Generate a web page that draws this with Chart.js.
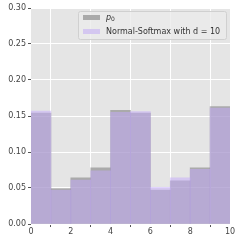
<!DOCTYPE html>
<html>
<head>
<meta charset="utf-8">
<script src="https://cdn.jsdelivr.net/npm/chart.js@4"></script>
<style>
  html, body { margin: 0; padding: 0; background: #fff; }
  #wrap { width: 241px; height: 241px; }
</style>
</head>
<body>
<div id="wrap"><canvas id="histChart" width="241" height="241"></canvas></div>
<script>
// bins are 1 unit wide, from 0 to 10
const binCenters = [0.5, 1.5, 2.5, 3.5, 4.5, 5.5, 6.5, 7.5, 8.5, 9.5];
const p0Values = [0.154, 0.049, 0.064, 0.078, 0.158, 0.154, 0.047, 0.060, 0.078, 0.163];
const softmaxValues = [0.157, 0.047, 0.061, 0.074, 0.155, 0.156, 0.051, 0.064, 0.076, 0.161];
const seriesLabels = ['p0', 'Normal-Softmax with d = 10'];
const yTicks = [0, 0.05, 0.10, 0.15, 0.20, 0.25, 0.30];
const xTicks = [0, 2, 4, 6, 8, 10];

const grayFill = 'rgba(112,112,112,0.5)';
const purpleFill = 'rgba(196,170,252,0.5)';

function toPoints(vals) {
    return vals.map((v, i) => ({ x: binCenters[i], y: v }));
}

const plotBackground = {
    id: 'plotBackground',
    beforeDraw(chart) {
        const a = chart.chartArea;
        const c = chart.ctx;
        c.save();
        c.fillStyle = '#e5e5e5';
        c.fillRect(a.left, a.top, a.right - a.left, a.bottom - a.top);
        c.restore();
    }
};

// matplotlib-like legend box in the upper right corner
const boxLegend = {
    id: 'boxLegend',
    afterDraw(chart) {
        const c = chart.ctx;
        const x0 = 78.5, y0 = 11.5, w = 148, h = 28;
        c.save();
        c.beginPath();
        c.roundRect(x0, y0, w, h, 2);
        c.fillStyle = 'rgba(235,235,235,0.8)';
        c.fill();
        c.strokeStyle = '#d0d0d0';
        c.lineWidth = 1;
        c.stroke();

        c.fillStyle = '#e5e5e5';
        c.fillRect(83, 15, 17, 5);
        c.fillStyle = grayFill;
        c.fillRect(83, 15, 17, 5);
        c.fillStyle = '#e5e5e5';
        c.fillRect(83, 29, 17, 5);
        c.fillStyle = purpleFill;
        c.fillRect(83, 29, 17, 5);

        c.fillStyle = '#333';
        c.textBaseline = 'middle';
        c.font = 'italic 8px "DejaVu Sans"';
        c.fillText('p', 106, 17.5);
        c.font = '6px "DejaVu Sans"';
        c.fillText('0', 111, 19.5);
        c.font = '8px "DejaVu Sans"';
        c.fillText(seriesLabels[1], 106, 31.5);
        c.restore();
    }
};

const tickFont = { family: 'DejaVu Sans', size: 8 };

new Chart(document.getElementById('histChart'), {
    type: 'bar',
    data: {
        datasets: [
            {
                label: seriesLabels[1],
                data: toPoints(softmaxValues),
                backgroundColor: purpleFill,
                borderWidth: 0
            },
            {
                label: seriesLabels[0],
                data: toPoints(p0Values),
                backgroundColor: grayFill,
                borderWidth: 0
            }
        ]
    },
    options: {
        responsive: false,
        animation: false,
        layout: { padding: { top: 8, right: 11, left: 0, bottom: 0 } },
        datasets: {
            bar: { barPercentage: 1, categoryPercentage: 1, grouped: false }
        },
        plugins: {
            legend: { display: false },
            tooltip: { enabled: false }
        },
        scales: {
            x: {
                type: 'linear',
                min: 0,
                max: 10,
                offset: false,
                afterBuildTicks: s => { s.ticks = xTicks.map(v => ({ value: v })); },
                ticks: { font: tickFont, color: '#444', padding: 0, maxRotation: 0 },
                grid: { color: '#ffffff', lineWidth: 1, tickLength: 3, tickColor: '#555' },
                border: { display: false },
                afterFit: s => { s.height = 17; }
            },
            y: {
                min: 0,
                max: 0.30,
                afterBuildTicks: s => { s.ticks = yTicks.map(v => ({ value: v })); },
                ticks: { font: tickFont, color: '#444', padding: 2, callback: v => v.toFixed(2) },
                grid: { color: '#ffffff', lineWidth: 1, tickLength: 3, tickColor: '#555' },
                border: { display: false },
                afterFit: s => { s.width = 31; }
            }
        }
    },
    plugins: [plotBackground, boxLegend]
});
</script>
</body>
</html>
